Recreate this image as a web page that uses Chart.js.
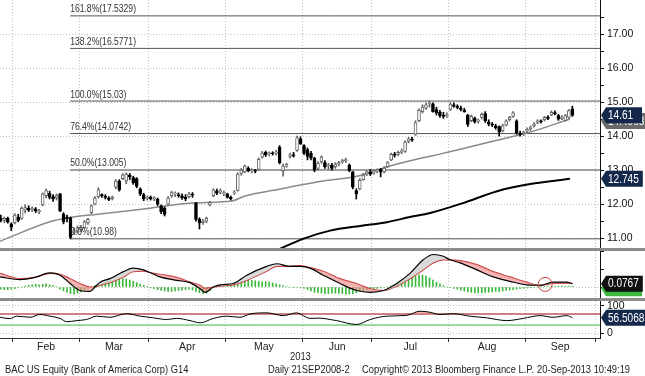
<!DOCTYPE html>
<html>
<head>
<meta charset="utf-8">
<script src="https://cdn.jsdelivr.net/npm/chart.js@4.4.1/dist/chart.umd.min.js"></script>
<style>
  html, body { margin: 0; padding: 0; background: #fff; }
  #wrap { position: relative; width: 645px; height: 376px; overflow: hidden;
          font-family: 'Liberation Sans', Arial, sans-serif; }
  .panel { position: absolute; left: 0; width: 645px; }
  .sep { position: absolute; left: 0; width: 645px; height: 3px; background: #8c8c8c; }
  .txt { position: absolute; font-size: 11px; line-height: 13px; color: #222; white-space: nowrap;
         transform: scaleX(0.85); transform-origin: 0 0; }
</style>
</head>
<body>
<div id="wrap">
  <div class="panel" style="top:0;height:248px"><canvas id="price" width="645" height="248"></canvas></div>
  <div class="sep" style="top:248px"></div>
  <div class="panel" style="top:251px;height:47px"><canvas id="macd" width="645" height="47"></canvas></div>
  <div class="sep" style="top:298px"></div>
  <div class="panel" style="top:301px;height:55px"><canvas id="rsi" width="645" height="55"></canvas></div>
  <div class="txt" style="left:290px;top:350px">2013</div>
  <div class="txt" style="left:5px;top:363px">BAC US Equity (Bank of America Corp) G14</div>
  <div class="txt" style="left:268px;top:363px">Daily 21SEP2008-2</div>
  <div class="txt" style="left:362px;top:363px">Copyright© 2013 Bloomberg Finance L.P.</div>
  <div class="txt" style="left:537px;top:363px">20-Sep-2013 10:49:19</div>
</div>
<script>
// x axis: trading-day index, 0 = 28 Jan 2013
const X_MIN = -0.23, X_MAX = 171.93;
const monthNames = ['Feb', 'Mar', 'Apr', 'May', 'Jun', 'Jul', 'Aug', 'Sep'];
const monthEdges = [3.5, 22.5, 42.5, 64.5, 86.5, 106.5, 128.5, 150.5, 170.5];
const monthMids = [13, 32.5, 53.5, 75.5, 96.5, 117.5, 139.5, 160.5];

// daily candles, Jan 28 .. Sep 20
const opens = [
  11.60, 11.52, 11.58, 11.42,
  11.45, 11.62, 11.58, 11.82, 11.88, 11.84, 11.86, 11.78, 11.98, 12.25, 12.32, 12.22, 12.18, 12.30, 11.70, 11.62, 11.60, 11.15, 11.20,
  11.25, 11.30, 11.45, 11.75, 12.00, 12.22, 12.28, 12.22, 12.18, 12.16, 12.50, 12.68, 12.75, 12.68, 12.85, 12.78, 12.75, 12.45, 12.28, 12.18,
  12.20, 12.15, 12.15, 11.95, 11.88, 12.00, 12.25, 12.30, 12.28, 12.24, 12.20, 12.22, 12.28, 12.02, 11.55, 11.45, 11.50, 11.98, 12.25, 12.38, 12.35, 12.30,
  12.30, 12.20, 12.32, 12.40, 12.90, 12.95, 13.05, 12.98, 12.98, 13.02, 13.38, 13.52, 13.48, 13.50, 13.50, 13.68, 12.98, 13.12, 13.40, 13.45, 13.58, 13.92,
  13.72, 13.60, 13.50, 13.35, 13.05, 13.25, 13.22, 13.12, 13.15, 13.10, 13.18, 13.24, 13.28, 13.15, 12.95, 12.40, 12.45, 12.72, 12.88, 12.95,
  12.90, 12.98, 13.02, 12.95, 13.10, 13.30, 13.46, 13.46, 13.52, 13.55, 13.84, 13.90, 14.05, 14.45, 14.72, 14.82, 14.95, 14.95, 14.78, 14.70, 14.62, 14.60,
  14.78, 14.92, 14.88, 14.82, 14.76, 14.62, 14.45, 14.52, 14.44, 14.55, 14.66, 14.42, 14.35, 14.30, 14.28, 14.15, 14.32, 14.48, 14.58, 14.45, 14.08, 14.06,
  14.15, 14.22, 14.30, 14.40, 14.44, 14.48, 14.55, 14.62, 14.68, 14.60, 14.52, 14.46, 14.55, 14.80
];
const highs = [
  11.68, 11.62, 11.62, 11.45,
  11.72, 11.70, 11.92, 11.98, 11.95, 11.92, 11.90, 11.85, 12.33, 12.45, 12.38, 12.28, 12.30, 12.32, 11.75, 11.68, 11.62, 11.30, 11.36,
  11.38, 11.52, 11.58, 11.98, 12.22, 12.48, 12.30, 12.28, 12.22, 12.24, 12.72, 12.72, 12.90, 12.92, 12.90, 12.82, 12.78, 12.48, 12.32, 12.24,
  12.24, 12.22, 12.18, 11.98, 11.92, 12.22, 12.38, 12.36, 12.33, 12.30, 12.28, 12.35, 12.34, 12.05, 11.60, 11.55, 11.62, 12.08, 12.45, 12.44, 12.45, 12.38,
  12.32, 12.24, 12.40, 12.92, 13.05, 13.15, 13.10, 13.04, 13.02, 13.36, 13.55, 13.56, 13.54, 13.54, 13.58, 13.72, 13.18, 13.20, 13.50, 13.52, 14.00, 13.98,
  13.75, 13.65, 13.55, 13.38, 13.25, 13.42, 13.28, 13.20, 13.20, 13.22, 13.26, 13.32, 13.35, 13.18, 12.96, 12.45, 12.75, 12.90, 12.98, 13.02,
  13.02, 13.04, 13.05, 13.10, 13.25, 13.50, 13.52, 13.56, 13.62, 13.86, 13.96, 13.96, 14.45, 14.80, 14.92, 14.98, 15.03, 14.98, 14.85, 14.76, 14.70, 14.68,
  14.98, 14.98, 14.92, 14.88, 14.82, 14.64, 14.62, 14.56, 14.50, 14.68, 14.72, 14.48, 14.40, 14.35, 14.30, 14.35, 14.48, 14.58, 14.72, 14.48, 14.15, 14.14,
  14.24, 14.30, 14.40, 14.48, 14.48, 14.58, 14.60, 14.74, 14.74, 14.64, 14.60, 14.64, 14.78, 14.88
];
const lows = [
  11.48, 11.45, 11.44, 11.22,
  11.42, 11.48, 11.55, 11.74, 11.78, 11.78, 11.75, 11.72, 11.95, 12.18, 12.15, 12.08, 12.12, 11.78, 11.42, 11.48, 10.98, 11.10, 11.15,
  11.18, 11.28, 11.40, 11.72, 11.98, 12.18, 12.20, 12.15, 12.10, 12.12, 12.45, 12.38, 12.72, 12.60, 12.72, 12.58, 12.48, 12.25, 12.10, 12.12,
  12.12, 12.10, 11.95, 11.72, 11.65, 11.98, 12.20, 12.22, 12.20, 12.14, 12.10, 12.18, 12.20, 11.50, 11.27, 11.40, 11.45, 11.95, 12.22, 12.28, 12.30, 12.25,
  12.18, 12.12, 12.28, 12.38, 12.85, 12.92, 12.95, 12.92, 12.92, 13.00, 13.35, 13.40, 13.42, 13.44, 13.44, 13.18, 12.82, 13.08, 13.35, 13.38, 13.55, 13.75,
  13.45, 13.30, 13.30, 12.95, 13.00, 13.20, 13.05, 13.02, 13.00, 13.05, 13.12, 13.20, 13.22, 12.95, 12.45, 12.15, 12.42, 12.70, 12.84, 12.84,
  12.88, 12.92, 12.80, 12.92, 13.08, 13.28, 13.38, 13.42, 13.48, 13.52, 13.80, 13.84, 14.02, 14.42, 14.68, 14.78, 14.85, 14.70, 14.62, 14.55, 14.52, 14.55,
  14.75, 14.84, 14.80, 14.74, 14.70, 14.28, 14.42, 14.38, 14.38, 14.50, 14.40, 14.30, 14.28, 14.20, 14.00, 14.12, 14.30, 14.44, 14.55, 14.05, 14.00, 14.02,
  14.10, 14.16, 14.26, 14.36, 14.38, 14.44, 14.48, 14.60, 14.62, 14.46, 14.48, 14.44, 14.52, 14.58
];
const closes = [
  11.52, 11.58, 11.47, 11.32,
  11.68, 11.52, 11.88, 11.90, 11.82, 11.86, 11.80, 11.80, 12.30, 12.40, 12.20, 12.15, 12.25, 11.80, 11.48, 11.58, 11.02, 11.22, 11.30,
  11.32, 11.48, 11.55, 11.95, 12.18, 12.42, 12.25, 12.20, 12.14, 12.20, 12.68, 12.42, 12.86, 12.88, 12.80, 12.62, 12.52, 12.30, 12.15, 12.18,
  12.15, 12.18, 12.00, 11.78, 11.70, 12.18, 12.34, 12.30, 12.25, 12.18, 12.15, 12.30, 12.26, 11.55, 11.45, 11.50, 11.58, 12.05, 12.42, 12.32, 12.40, 12.31,
  12.20, 12.16, 12.36, 12.88, 13.00, 13.12, 12.98, 13.00, 12.97, 13.32, 13.50, 13.45, 13.50, 13.48, 13.52, 13.22, 13.12, 13.16, 13.45, 13.42, 13.95, 13.78,
  13.50, 13.40, 13.35, 13.00, 13.20, 13.38, 13.10, 13.15, 13.05, 13.18, 13.22, 13.28, 13.30, 12.98, 12.50, 12.30, 12.70, 12.85, 12.95, 12.88,
  12.98, 13.00, 12.94, 13.06, 13.22, 13.46, 13.44, 13.52, 13.55, 13.82, 13.92, 13.88, 14.40, 14.76, 14.85, 14.92, 14.95, 14.72, 14.68, 14.60, 14.58, 14.60,
  14.94, 14.88, 14.84, 14.78, 14.72, 14.34, 14.58, 14.42, 14.46, 14.64, 14.45, 14.35, 14.32, 14.25, 14.12, 14.30, 14.45, 14.55, 14.68, 14.10, 14.05, 14.12,
  14.20, 14.26, 14.36, 14.45, 14.42, 14.55, 14.52, 14.70, 14.66, 14.50, 14.56, 14.60, 14.75, 14.61
];

// moving averages (day index, value)
const ma50X = [-0.2, 14.1, 19, 28.5, 42.8, 55.7, 66.3, 70.1, 79.5, 84.4, 92.5, 102.2, 111.7, 121.1, 126, 142.4, 151, 163.3];
const ma50Y = [10.91, 11.48, 11.59, 11.71, 11.88, 12.04, 12.09, 12.24, 12.43, 12.53, 12.68, 12.82, 13.12, 13.36, 13.47, 13.88, 14.09, 14.50];
const ma200X = [79.3, 86.7, 94.5, 103.1, 110.8, 117.4, 123.2, 132.6, 142.4, 151.9, 163.3];
const ma200Y = [10.65, 10.98, 11.22, 11.36, 11.47, 11.62, 11.74, 12.03, 12.38, 12.59, 12.745];

// fibonacci retracement
const fibPct = ['161.8%', '138.2%', '100.0%', '76.4%', '50.0%', '0.0%'];
const fibLevels = [17.5329, 16.5771, 15.03, 14.0742, 13.005, 10.98];
const fibStartX = 19.9;
const priceTicks = [11, 11.5, 12, 12.5, 13, 13.5, 14, 14.5, 15, 15.5, 16, 16.5, 17, 17.5];

// MACD panel
const macdX = [-0.2, 5.5, 9.8, 14.1, 17, 19.9, 22.7, 25.6, 27, 28.5, 31.3, 35.2, 38, 40.9, 42.8, 45.7, 50.5, 54.3, 57.2, 58.6,
  61, 62.9, 66.7, 70.6, 76.3, 79.2, 83, 85.9, 88.7, 92.5, 97.3, 102.1, 106, 109.8, 113.6, 117.4, 121.2, 124.1, 127, 128.9,
  131.8, 136.6, 141.3, 146.1, 150.9, 154.7, 158.5, 162.4, 164];
const macdLine = [0.23, 0.17, 0.22, 0.32, 0.27, 0.08, -0.08, -0.10, 0.0, 0.11, 0.19, 0.35, 0.43, 0.39, 0.33, 0.23, 0.15, 0.10, -0.04, -0.12,
  0.0, 0.05, 0.08, 0.27, 0.47, 0.53, 0.47, 0.47, 0.43, 0.27, 0.08, -0.08, -0.12, -0.08, 0.08, 0.31, 0.62, 0.74, 0.70, 0.62,
  0.55, 0.39, 0.23, 0.13, 0.05, 0.04, 0.11, 0.11, 0.0767];
const signalLine = [0.31, 0.19, 0.22, 0.31, 0.29, 0.19, 0.08, 0.00, 0.0, 0.04, 0.10, 0.23, 0.35, 0.36, 0.33, 0.29, 0.22, 0.11, 0.04, -0.03,
  0.0, 0.02, 0.05, 0.15, 0.36, 0.47, 0.47, 0.49, 0.44, 0.36, 0.19, 0.08, -0.04, -0.08, 0.02, 0.19, 0.39, 0.55, 0.62, 0.62,
  0.60, 0.51, 0.35, 0.23, 0.11, 0.04, 0.08, 0.09, 0.08];
const histVals = [
  -0.05, -0.06, -0.06, -0.05,
  -0.04, -0.02, 0.00, 0.02, 0.04, 0.05, 0.06, 0.05, 0.06, 0.07, 0.05, 0.03, 0.01, -0.05, -0.09, -0.12, -0.15, -0.16, -0.14,
  -0.11, -0.07, -0.03, 0.00, 0.03, 0.06, 0.09, 0.11, 0.13, 0.14, 0.16, 0.18, 0.19, 0.18, 0.16, 0.13, 0.10, 0.07, 0.04, 0.01,
  -0.02, -0.04, -0.06, -0.08, -0.09, -0.10, -0.10, -0.09, -0.08, -0.07, -0.06, -0.05, -0.07, -0.10, -0.13, -0.15, -0.14, -0.08, -0.02, 0.02, 0.04, 0.05,
  0.05, 0.06, 0.08, 0.10, 0.12, 0.14, 0.15, 0.15, 0.14, 0.13, 0.12, 0.12, 0.11, 0.09, 0.07, 0.05, 0.03, 0.01, 0.00, -0.01, -0.01, -0.02,
  -0.03, -0.06, -0.09, -0.12, -0.13, -0.14, -0.15, -0.15, -0.14, -0.14, -0.14, -0.15, -0.16, -0.16, -0.15, -0.13, -0.10, -0.08, -0.06, -0.04,
  -0.04, -0.03, -0.02, -0.01, 0.00, 0.02, 0.05, 0.08, 0.11, 0.15, 0.19, 0.22, 0.25, 0.27, 0.27, 0.25, 0.21, 0.16, 0.11, 0.07, 0.03, 0.00,
  -0.01, -0.03, -0.05, -0.07, -0.09, -0.11, -0.12, -0.13, -0.13, -0.13, -0.12, -0.12, -0.11, -0.10, -0.10, -0.09, -0.08, -0.07, -0.06, -0.05, -0.04, -0.03,
  -0.02, -0.02, -0.01, 0.00, 0.01, 0.01, 0.02, 0.02, 0.02, 0.02, 0.02, 0.02, 0.02, 0.02
];
const macdTicks = [0, 0.4, 0.8];
const crossMark = { x: 156.2, y: 0.06 };

// RSI panel
const rsiX = [-0.2, 2.6, 4.6, 8.4, 11.2, 14.1, 17, 18.9, 21.8, 24.6, 27.5, 31.3, 36.1, 40, 43.8, 47.6, 50.5, 54.3, 57.2, 61,
  64.8, 68.6, 71.5, 76.3, 81.1, 84.9, 88.7, 91.6, 94.5, 96.4, 102.1, 106, 110.7, 116.5, 120.3, 123.2, 126, 129.8, 134.6, 139.4,
  145.2, 149.9, 154.7, 158.5, 162.4, 164];
const rsiVals = [58, 53, 62, 58, 68, 62, 54, 42, 46, 50, 62, 58, 71, 62, 56, 50, 54, 46, 38, 54,
  62, 58, 70, 74, 64, 74, 54, 55, 50, 46, 32, 50, 62, 65, 80, 76, 68, 71, 62, 56,
  46, 54, 64, 58, 64, 56.5068];
const rsiBands = [70, 30];
const rsiTicks = [0, 100];

const FONT = "'Liberation Sans', Arial, sans-serif";
const idx = opens.map((v, i) => i);
const pts = (xs, ys) => xs.map((x, i) => ({ x: x, y: ys[i] }));
const isUp = i => closes[i] >= opens[i];

function xScale(withLabels) {
  return {
    type: 'linear', min: X_MIN, max: X_MAX, offset: false,
    afterBuildTicks: s => { s.ticks = (withLabels ? monthEdges.concat(monthMids) : monthEdges).map(v => ({ value: v })); },
    ticks: {
      display: withLabels, autoSkip: false, maxRotation: 0, padding: -1, color: '#222',
      font: { family: FONT, size: 10.5 },
      callback: v => { const k = monthMids.indexOf(v); return k >= 0 ? monthNames[k] : ''; }
    },
    grid: {
      offset: false,
      color: c => c.tick && monthEdges.includes(c.tick.value) ? '#c2c2c2' : 'rgba(0,0,0,0)',
      tickColor: c => c.tick && monthEdges.includes(c.tick.value) ? '#333' : 'rgba(0,0,0,0)',
      drawTicks: withLabels, tickLength: 4, lineWidth: 1
    },
    border: { display: withLabels, color: '#333', dash: [1, 2] },
    afterFit: s => { s.height = withLabels ? 18 : 0; s.paddingLeft = 0; s.paddingRight = 0; }
  };
}

function yScale(min, max, ticks, label, gridOn) {
  return {
    position: 'right', min: min, max: max,
    afterBuildTicks: s => { s.ticks = ticks.map(v => ({ value: v })); },
    ticks: { autoSkip: false, padding: 3, color: '#111', font: { family: FONT, size: 10.5 }, callback: label },
    grid: {
      color: c => c.tick && gridOn(c.tick.value) ? '#c2c2c2' : 'rgba(0,0,0,0)',
      tickColor: '#111', tickLength: 4
    },
    border: { color: '#111', dash: [1, 2] },
    afterFit: s => { s.width = 45; s.paddingTop = 0; s.paddingBottom = 0; }
  };
}

// value tags on the right axis
function tagPlugin(tags) {
  return {
    id: 'tags',
    afterDraw(chart) {
      const { ctx } = chart;
      const y = chart.scales.y;
      ctx.save();
      ctx.font = '12px ' + FONT;
      ctx.textBaseline = 'middle';
      tags.forEach(t => {
        const py = y.getPixelForValue(t.v);
        const w = ctx.measureText(t.text).width * 0.84;
        const right = Math.min(645, Math.max(642, 608 + w + 4));
        ctx.fillStyle = t.bg;
        ctx.beginPath();
        ctx.moveTo(601, py);
        ctx.lineTo(606, py - 8);
        ctx.lineTo(right, py - 8);
        ctx.lineTo(right, py + 8);
        ctx.lineTo(606, py + 8);
        ctx.closePath();
        ctx.fill();
        ctx.save();
        ctx.translate(608, py + 0.5);
        ctx.scale(0.84, 1);
        ctx.fillStyle = '#fff';
        ctx.fillText(t.text, 0, 0);
        ctx.restore();
      });
      ctx.restore();
    }
  };
}

const fibLabels = {
  id: 'fibLabels',
  afterDatasetsDraw(chart) {
    const { ctx, scales: { x, y } } = chart;
    ctx.save();
    ctx.font = '11px ' + FONT;
    ctx.fillStyle = '#333';
    ctx.textBaseline = 'bottom';
    fibPct.forEach((p, k) => {
      ctx.save();
      ctx.translate(x.getPixelForValue(fibStartX), y.getPixelForValue(fibLevels[k]) - 1);
      ctx.scale(0.78, 1);
      ctx.fillText(p + '(' + fibLevels[k] + ')', 0, 0);
      ctx.restore();
    });
    ctx.restore();
  }
};

const common = {
  responsive: false, animation: false, events: [],
  layout: { padding: 0 },
  plugins: { legend: { display: false }, tooltip: { enabled: false } }
};

// price chart
const fibSets = fibLevels.map((lv, k) => ({
  type: 'line', data: [{ x: fibStartX, y: lv }, { x: X_MAX, y: lv }],
  borderColor: k === 4 ? '#a0a0a0' : '#555', borderWidth: k === 4 ? 2 : 1, pointRadius: 0, order: 5
}));

new Chart(document.getElementById('price'), {
  type: 'bar',
  data: {
    datasets: [
      { type: 'bar', data: idx.map(i => ({ x: i, y: [opens[i], closes[i]] })), barThickness: 3, grouped: false, minBarLength: 1,
        backgroundColor: c => isUp(c.dataIndex) ? '#fff' : '#000',
        borderColor: c => isUp(c.dataIndex) ? '#666' : '#000', borderWidth: 1, borderSkipped: false, order: 0 },
      { type: 'bar', data: idx.map(i => ({ x: i, y: [lows[i], highs[i]] })), barThickness: 1, grouped: false,
        backgroundColor: c => isUp(c.dataIndex) ? '#666' : '#000', order: 1 },
      { type: 'line', data: pts(ma50X, ma50Y), borderColor: '#8a8a8a', borderWidth: 1.5, pointRadius: 0, cubicInterpolationMode: 'monotone', order: 2 },
      { type: 'line', data: pts(ma200X, ma200Y), borderColor: '#000', borderWidth: 2, pointRadius: 0, cubicInterpolationMode: 'monotone', order: 2 },
      ...fibSets
    ]
  },
  options: Object.assign({}, common, {
    scales: {
      x: xScale(false),
      y: yScale(10.71, 18.0, priceTicks, v => Number.isInteger(v) ? v.toFixed(2) : '', v => Number.isInteger(v))
    }
  }),
  plugins: [fibLabels, tagPlugin([
    { v: ma50Y[ma50Y.length - 1] - 0.06, text: '14.4963', bg: '#6b6b6b' },
    { v: closes[closes.length - 1], text: '14.61', bg: '#13284a' },
    { v: ma200Y[ma200Y.length - 1], text: '12.745', bg: '#13284a' }
  ])]
});

// MACD chart
const circlePlugin = {
  id: 'circle',
  afterDatasetsDraw(chart) {
    const { ctx, scales: { x, y } } = chart;
    ctx.save();
    ctx.strokeStyle = '#c83c3c';
    ctx.lineWidth = 1;
    ctx.beginPath();
    ctx.arc(x.getPixelForValue(crossMark.x), y.getPixelForValue(crossMark.y), 7, 0, Math.PI * 2);
    ctx.stroke();
    ctx.restore();
  }
};

new Chart(document.getElementById('macd'), {
  type: 'bar',
  data: {
    datasets: [
      { type: 'line', data: pts(macdX, macdLine), borderColor: '#000', borderWidth: 1.2, pointRadius: 0, cubicInterpolationMode: 'monotone',
        fill: { target: 1, above: 'rgba(205,205,205,0.75)', below: 'rgba(236,130,130,0.6)' }, order: 0 },
      { type: 'line', data: pts(macdX, signalLine), borderColor: '#c83232', borderWidth: 1.2, pointRadius: 0, cubicInterpolationMode: 'monotone', order: 1 },
      { type: 'bar', data: idx.map(i => ({ x: i, y: histVals[i] })), barThickness: 1, grouped: false, backgroundColor: '#3cb83c', order: 2 }
    ]
  },
  options: Object.assign({}, common, {
    scales: {
      x: xScale(false),
      y: yScale(-0.25, 0.82, macdTicks, () => '', v => v === 0)
    }
  }),
  plugins: [circlePlugin, tagPlugin([
    { v: histVals[histVals.length - 1] - 0.05, text: '', bg: '#3cb83c' },
    { v: macdLine[macdLine.length - 1], text: '0.0767', bg: '#111' }
  ])]
});

// RSI chart
new Chart(document.getElementById('rsi'), {
  type: 'line',
  data: {
    datasets: [
      { data: pts(rsiX, rsiVals), borderColor: '#000', borderWidth: 1, pointRadius: 0, cubicInterpolationMode: 'monotone',
        fill: { target: { value: rsiBands[0] }, above: 'rgba(236,130,130,0.6)', below: 'rgba(0,0,0,0)' }, order: 0 },
      { data: [{ x: X_MIN, y: rsiBands[0] }, { x: X_MAX, y: rsiBands[0] }], borderColor: '#b85858', borderWidth: 1.5, pointRadius: 0, order: 1 },
      { data: [{ x: X_MIN, y: rsiBands[1] }, { x: X_MAX, y: rsiBands[1] }], borderColor: '#3cb83c', borderWidth: 1, pointRadius: 0, order: 1 }
    ]
  },
  options: Object.assign({}, common, {
    scales: {
      x: xScale(true),
      y: yScale(-16.7, 116.7, rsiTicks, v => String(v), () => true)
    }
  }),
  plugins: [tagPlugin([{ v: rsiVals[rsiVals.length - 1], text: '56.5068', bg: '#13284a' }])]
});
</script>
</body>
</html>
